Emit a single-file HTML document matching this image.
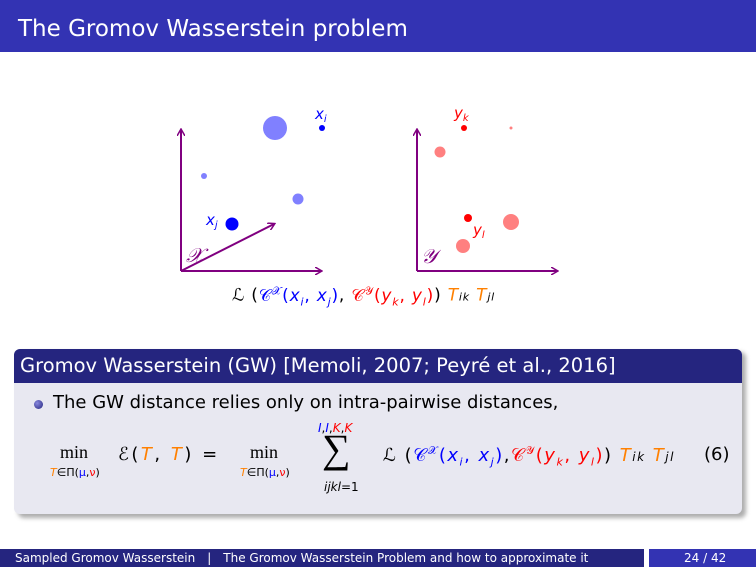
<!DOCTYPE html>
<html><head><meta charset="utf-8"><style>
body{margin:0;width:756px;height:567px;background:#fff;position:relative;overflow:hidden;font-family:"DejaVu Sans","Liberation Sans",sans-serif;}
.abs{position:absolute}
.m{font-family:"Liberation Serif","DejaVu Serif",serif;}
.o{color:#ff8000}.b{color:#0000ff}.r{color:#ff0000}
i{font-style:italic}
</style></head><body>
<div class="abs" style="left:0;top:0;width:756px;height:52px;background:#3333b3;"></div>
<div class="abs" style="left:18px;top:16px;color:#fff;font-size:23px;">The Gromov Wasserstein problem</div>

<svg class="abs" style="left:0;top:0" width="756" height="330" id="fig">
<defs><marker id="ar" markerWidth="8" markerHeight="8" refX="6" refY="4" orient="auto" markerUnits="userSpaceOnUse"><path d="M0,0 L7,4 L0,8" fill="none" stroke="#800080" stroke-width="1.5"/></marker></defs>
<g stroke="#800080" stroke-width="2" fill="none">
<line x1="181" y1="271" x2="181" y2="130" marker-end="url(#ar)"/>
<line x1="181" y1="271" x2="321" y2="271" marker-end="url(#ar)"/>
<line x1="181" y1="271" x2="274" y2="224" marker-end="url(#ar)"/>
<line x1="417" y1="271" x2="417" y2="130" marker-end="url(#ar)"/>
<line x1="417" y1="271" x2="557" y2="271" marker-end="url(#ar)"/>
</g>
<g id="pts"></g>
<g font-family="DejaVu Sans, sans-serif" font-style="italic" font-size="15">
<text x="315" y="119" fill="#0000ff">x<tspan font-size="10" dy="3">i</tspan></text>
<text x="206" y="225" fill="#0000ff">x<tspan font-size="10" dy="3">j</tspan></text>
<text x="454" y="118" fill="#ff0000">y<tspan font-size="10" dy="3">k</tspan></text>
<text x="473" y="235" fill="#ff0000">y<tspan font-size="10" dy="3">l</tspan></text>
<text x="186" y="262" fill="#800080" font-family="Liberation Serif, serif" font-size="20">𝒳</text>
<text x="421" y="263" fill="#800080" font-family="Liberation Serif, serif" font-size="20">𝒴</text>
</g>
</svg>
<div class="abs" style="left:232px;top:284px;font-size:17px;letter-spacing:0.8px;white-space:nowrap;">ℒ (<span class="b">𝒞<sup style="font-size:11px">𝒳</sup>(<i>x<sub style="font-size:11px">i</sub></i>, <i>x<sub style="font-size:11px">j</sub></i>)</span>, <span class="r">𝒞<sup style="font-size:11px">𝒴</sup>(<i>y<sub style="font-size:11px">k</sub></i>, <i>y<sub style="font-size:11px">l</sub></i>)</span>) <span class="o"><i>T</i></span><i style="font-size:11px">ik</i> <span class="o"><i>T</i></span><i style="font-size:11px">jl</i></div>

<div class="abs" style="left:18px;top:352px;width:728px;height:166px;background:#777;border-radius:6px;filter:blur(2px);opacity:.6"></div>
<div class="abs" style="left:14px;top:349px;width:728px;height:165px;background:#e8e8f1;border-radius:6px;overflow:hidden;">
<div style="height:34px;background:#25257f;color:#fff;font-size:19.5px;line-height:34px;padding-left:6px;white-space:nowrap;">Gromov Wasserstein (GW) [Memoli, 2007; Peyré et al., 2016]</div>
</div>
<div class="abs" style="left:34px;top:400px;width:9px;height:9px;border-radius:50%;background:radial-gradient(circle at 35% 35%,#8888dd,#25257f);"></div>
<div class="abs" style="left:53px;top:392px;font-size:18px;white-space:nowrap;">The GW distance relies only on intra-pairwise distances,</div>

<div class="abs" style="left:0;top:420px;width:756px;height:90px;font-size:18px;white-space:nowrap;">
<span class="abs m" style="left:60px;top:22px;font-size:18px;">min</span>
<span class="abs" style="left:50px;top:46px;font-size:11px;"><i class="o">T</i>∈Π(<span class="b">μ</span>,<span class="r">ν</span>)</span>
<span class="abs" style="left:118px;top:24px;letter-spacing:2.5px;">ℰ(<i class="o">T</i>, <i class="o">T</i>) =</span>
<span class="abs m" style="left:250px;top:22px;font-size:18px;">min</span>
<span class="abs" style="left:240px;top:46px;font-size:11px;"><i class="o">T</i>∈Π(<span class="b">μ</span>,<span class="r">ν</span>)</span>
<span class="abs" style="left:318px;top:1px;font-size:12px;"><i class="b">I</i>,<i class="b">I</i>,<i class="r">K</i>,<i class="r">K</i></span>
<span class="abs m" style="left:322px;top:6px;font-size:40px;line-height:46px;">∑</span>
<span class="abs" style="left:324px;top:60px;font-size:12px;"><i>ijkl</i>=1</span>
<span class="abs" style="left:383px;top:24px;letter-spacing:1.5px;">ℒ (<span class="b">𝒞<sup style="font-size:11px">𝒳</sup>(<i>x<sub style="font-size:11px">i</sub></i>, <i>x<sub style="font-size:11px">j</sub></i>)</span>,<span class="r">𝒞<sup style="font-size:11px">𝒴</sup>(<i>y<sub style="font-size:11px">k</sub></i>, <i>y<sub style="font-size:11px">l</sub></i>)</span>) <i class="o">T</i><i style="font-size:12px">ik</i> <i class="o">T</i><i style="font-size:12px">jl</i></span>
<span class="abs" style="left:704px;top:24px;">(6)</span>
</div>

<div class="abs" style="left:0;top:549px;width:644px;height:18px;background:#25257f;color:#fff;font-size:12px;line-height:18px;white-space:nowrap;"><span style="margin-left:15px">Sampled Gromov Wasserstein</span><span style="margin-left:12px">|</span><span style="margin-left:12px">The Gromov Wasserstein Problem and how to approximate it</span></div>
<div class="abs" style="left:649px;top:549px;width:107px;height:18px;background:#3333b3;color:#fff;font-size:12px;line-height:18px;"><span style="margin-left:35px">24 / 42</span></div>

<script>
// point positions in diagram coords (x right from origin, y up from origin), radii, colours
const ptX = [94, 141, 23, 117, 51, 47, 94, 23, 51, 94, 46];
const ptY = [143, 143, 95, 72, 47, 143, 143, 119, 53, 49, 25];
const ptR = [12, 3, 3, 5.5, 6.5, 3, 1.5, 5.5, 4, 8, 7];
const ptSpace = ['x','x','x','x','x','y','y','y','y','y','y'];
const ptColor = ['#8080ff','#0000ff','#8080ff','#8080ff','#0000ff','#ff0000','#ff8080','#ff8080','#ff0000','#ff8080','#ff8080'];
const origins = {x:[181,271], y:[417,271]};
function sx(s,v){return origins[s][0]+v;}
function sy(s,v){return origins[s][1]-v;}
const g=document.getElementById('pts');
for(let i=0;i<ptX.length;i++){
  const c=document.createElementNS('http://www.w3.org/2000/svg','circle');
  c.setAttribute('cx',sx(ptSpace[i],ptX[i]));
  c.setAttribute('cy',sy(ptSpace[i],ptY[i]));
  c.setAttribute('r',ptR[i]);
  c.setAttribute('fill',ptColor[i]);
  
  
  g.appendChild(c);
}
</script>
</body></html>
